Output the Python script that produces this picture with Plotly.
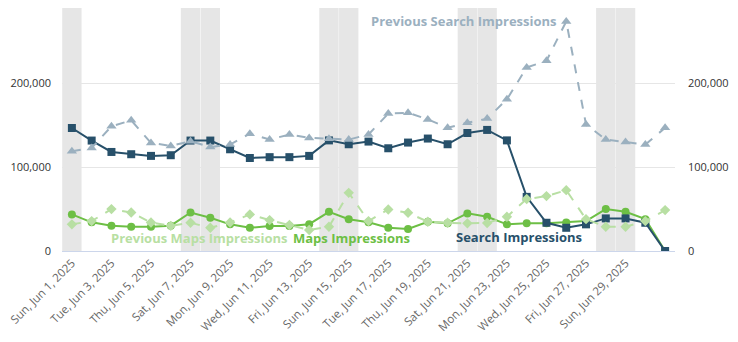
import pandas as pd
import plotly.graph_objects as go

dates = pd.date_range("2025-06-01", "2025-07-01", freq="D")

search = [146800, 131800, 118200, 115500, 113500, 114300, 131800, 131800, 121400, 111000,
          112000, 112000, 113500, 132000, 127400, 130600, 122600, 129400, 134200, 127400,
          140800, 144500, 132000, 64600, 33700, 27700, 31800, 38900, 38900, 33700, 0]
prev_search = [119000, 123000, 148800, 156000, 129000, 125400, 131000, 124000, 127000, 140000,
               133000, 139000, 135000, 134000, 133000, 139000, 164000, 165000, 157000, 147000,
               153000, 158000, 181000, 219000, 227000, 274000, 151000, 133000, 130000, 127000, 147000]
maps = [43700, 34200, 30200, 29000, 29000, 30200, 46000, 39700, 31800, 27700,
        29800, 29800, 32000, 46800, 38000, 34200, 27700, 26200, 34900, 33000,
        44900, 40800, 31800, 33000, 33000, 34000, 35700, 50000, 46800, 38000, 0]
prev_maps = [31800, 35700, 50000, 46000, 34000, 30000, 33700, 27700, 34000, 43700,
             36900, 31000, 25000, 29000, 69400, 35700, 49600, 45600, 34900, 33700,
             33000, 33500, 40800, 62000, 65500, 72600, 38000, 29000, 29000, 35700, 48800]

y_ticks = [0, 100000, 200000]
x_ticks = list(dates[0:30:2])

C_SEARCH = "#27506a"
C_PREV_SEARCH = "#9bb0bf"
C_MAPS = "#6dbf45"
C_PREV_MAPS = "#b8dfa3"

fig = go.Figure()

fig.add_trace(go.Scatter(x=dates, y=prev_maps, mode="lines+markers", name="Previous Maps Impressions",
                         line=dict(color=C_PREV_MAPS, width=2, dash="dash"),
                         marker=dict(symbol="diamond", size=8, color=C_PREV_MAPS), yaxis="y2"))
fig.add_trace(go.Scatter(x=dates, y=prev_search, mode="lines+markers", name="Previous Search Impressions",
                         line=dict(color=C_PREV_SEARCH, width=2, dash="dash"),
                         marker=dict(symbol="triangle-up", size=9, color=C_PREV_SEARCH), yaxis="y2"))
fig.add_trace(go.Scatter(x=dates, y=maps, mode="lines+markers", name="Maps Impressions",
                         line=dict(color=C_MAPS, width=2),
                         marker=dict(symbol="circle", size=8, color=C_MAPS)))
fig.add_trace(go.Scatter(x=dates, y=search, mode="lines+markers", name="Search Impressions",
                         line=dict(color=C_SEARCH, width=2),
                         marker=dict(symbol="square", size=8, color=C_SEARCH)))

shapes = []
for d in dates:
    if d.dayofweek >= 5:
        shapes.append(dict(type="rect", xref="x", yref="paper",
                           x0=d - pd.Timedelta(hours=11, minutes=45),
                           x1=d + pd.Timedelta(hours=11, minutes=45),
                           y0=0, y1=1, fillcolor="#e6e6e6", line=dict(width=0), layer="below"))

ann_font = "Open Sans"
annotations = [
    dict(text="<b>Previous Search Impressions</b>", x=pd.Timestamp("2025-06-20 20:00"), y=275000,
         font=dict(color=C_PREV_SEARCH, size=13, family=ann_font)),
    dict(text="<b>Previous Maps Impressions</b>", x=pd.Timestamp("2025-06-07 10:30"), y=15500,
         font=dict(color=C_PREV_MAPS, size=13, family=ann_font)),
    dict(text="<b>Maps Impressions</b>", x=pd.Timestamp("2025-06-15 03:00"), y=15500,
         font=dict(color=C_MAPS, size=13, family=ann_font)),
    dict(text="<b>Search Impressions</b>", x=pd.Timestamp("2025-06-23 14:30"), y=16700,
         font=dict(color=C_SEARCH, size=13, family=ann_font)),
]
for a in annotations:
    a.update(xref="x", yref="y", showarrow=False, xanchor="center", yanchor="middle")

fig.update_layout(
    width=738, height=342,
    margin=dict(l=62, r=63, t=8, b=91),
    paper_bgcolor="white", plot_bgcolor="white",
    showlegend=False,
    font=dict(family="Open Sans", size=11, color="#333333"),
    shapes=shapes,
    annotations=annotations,
    xaxis=dict(type="date",
               range=[dates[0] - pd.Timedelta(hours=12), dates[-1] + pd.Timedelta(hours=12)],
               tickvals=x_ticks, tickformat="%a, %b %-d, %Y",
               tickangle=-45, tickfont=dict(size=11.5, color="#666666"),
               showgrid=False, showline=True, linecolor="#ccd6eb", linewidth=1,
               ticks="", zeroline=False),
    yaxis=dict(range=[0, 290000], tickvals=y_ticks, tickformat=",",
               showgrid=True, gridcolor="#e6e6e6", gridwidth=1, zeroline=False,
               ticklabelstandoff=10, tickfont=dict(size=11, color="#333333")),
    yaxis2=dict(range=[0, 290000], tickvals=y_ticks, tickformat=",", overlaying="y", side="right",
                showgrid=False, zeroline=False, ticklabelstandoff=12,
                tickfont=dict(size=11, color="#333333")),
)

fig.write_html("out.html")
